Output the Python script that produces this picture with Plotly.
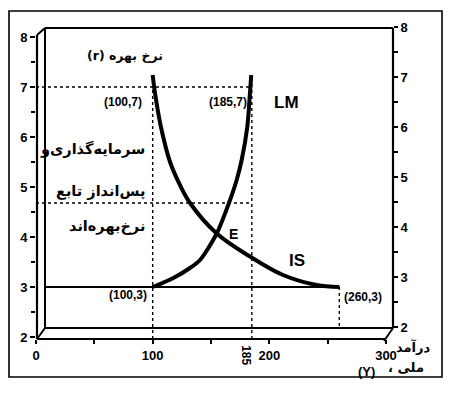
import plotly.graph_objects as go

# ---------------- data ----------------
is_x = [100, 102, 107.1, 114.9, 123.4, 132, 154.9, 183.4, 211.7, 240.6, 260]
is_y = [7.24, 6.88, 6.2, 5.5, 5.04, 4.68, 4.07, 3.61, 3.24, 3.04, 3.0]
lm_x = [100, 106.3, 117.7, 132, 140.6, 154.9, 165.4, 172, 176.3, 181.1, 183.4, 184.5]
lm_y = [3.0, 3.06, 3.18, 3.38, 3.54, 4.07, 4.68, 5.14, 5.54, 6.2, 6.88, 7.24]

point_x = [100, 185, 100, 260]
point_y = [7, 7, 3, 3]
mid_rate = 4.68          # dotted level of the second guide line
eq_x, eq_y = 154.9, 4.07  # E

x_ticks = [0, 100, 200, 300]
y_ticks = [2, 3, 4, 5, 6, 7, 8]

# ---------------- layout geometry ----------------
W, H = 450, 400
L, R, T, B = 36, 57, 23, 61
PW, PH = W - L - R, H - T - B
X_RANGE = [0, 306]
Y_RANGE = [1.96, 8.28]
Y2_RANGE = [1.76, 8.08]


def px(x):
    return (x - L) / PW


def py(y):
    return (T + PH - y) / PH


def xv(pxx):
    return X_RANGE[0] + (pxx - L) / PW * (X_RANGE[1] - X_RANGE[0])


def yv(pyy):
    return Y_RANGE[0] + (T + PH - pyy) / PH * (Y_RANGE[1] - Y_RANGE[0])


fig = go.Figure()

dot = dict(color="black", width=1.4, dash="dot")

# horizontal dotted guides (r = 7 and mid level) from the front axis to Y = 185
for yy in [point_y[0], mid_rate]:
    fig.add_trace(go.Scatter(x=[X_RANGE[0], point_x[1]], y=[yy, yy], mode="lines",
                             line=dot, hoverinfo="skip"))
# vertical dotted guides at Y = 100 and Y = 185
fig.add_trace(go.Scatter(x=[point_x[0], point_x[0]], y=[Y_RANGE[0], point_y[0]],
                         mode="lines", line=dot, hoverinfo="skip"))
fig.add_trace(go.Scatter(x=[point_x[1], point_x[1]], y=[Y_RANGE[0], lm_y[-1]],
                         mode="lines", line=dot, hoverinfo="skip"))
# solid line r = 3 from the back plane to Y = 260
fig.add_trace(go.Scatter(x=[xv(45), point_x[3]], y=[point_y[3], point_y[3]],
                         mode="lines", line=dict(color="black", width=2), hoverinfo="skip"))
# dotted drop at Y = 260 to the back floor
fig.add_trace(go.Scatter(x=[point_x[3], point_x[3]], y=[point_y[3], yv(328)],
                         mode="lines", line=dot, hoverinfo="skip"))

# IS and LM curves
fig.add_trace(go.Scatter(x=is_x, y=is_y, mode="lines", name="IS",
                         line=dict(color="black", width=4, shape="spline", smoothing=1.0)))
fig.add_trace(go.Scatter(x=lm_x, y=lm_y, mode="lines", name="LM",
                         line=dict(color="black", width=4, shape="spline", smoothing=0.8)))

# ---------------- frame (3D box) ----------------
def seg(x0, y0, x1, y1, w=2):
    return dict(type="line", xref="paper", yref="paper",
                x0=px(x0), y0=py(y0), x1=px(x1), y1=py(y1),
                line=dict(color="black", width=w), layer="above")

shapes = [
    # outer frame
    dict(type="rect", xref="paper", yref="paper", x0=px(9), y0=py(377), x1=px(442), y1=py(11),
         line=dict(color="black", width=1.6), layer="below"),
    # back plane
    seg(45, 28, 393, 28, 2.2),
    seg(45, 28, 45, 328, 2),
    seg(393, 28, 393, 328, 2.2),
    seg(45, 328, 393, 328, 2),
    # front axes
    seg(37, 35, 37, 339, 2.2),
    seg(37, 339, 385, 339, 2.2),
    # depth diagonals
    seg(37, 35, 45, 28, 2),
    seg(37, 339, 45, 328, 2),
    seg(384, 341, 393, 328, 2),
]

lbl = dict(family="Liberation Sans", size=12, color="black", weight="bold")
fa = dict(family="DejaVu Sans", size=14.5, color="black", weight="bold")

ann = [
    dict(x=point_x[0], y=point_y[0], text="(100,7)", xanchor="right", yanchor="middle",
         xshift=-9, yshift=-15, font=lbl),
    dict(x=point_x[1], y=point_y[1], text="(185,7)", xanchor="right", yanchor="middle",
         xshift=-3, yshift=-15, font=lbl),
    dict(x=point_x[2], y=point_y[2], text="(100,3)", xanchor="right", yanchor="middle",
         xshift=-4, yshift=-8, font=lbl),
    dict(x=point_x[3], y=point_y[3], text="(260,3)", xanchor="left", yanchor="middle",
         xshift=3, yshift=-10, font=lbl),
    dict(x=point_x[1], y=point_y[1], text="LM", xanchor="left", yanchor="middle",
         xshift=20, yshift=-15, font=dict(family="Liberation Sans", size=17, color="black", weight="bold")),
    dict(x=xv(297), y=yv(260), text="IS", xanchor="center", yanchor="middle",
         font=dict(family="Liberation Sans", size=17, color="black", weight="bold")),
    dict(x=eq_x, y=eq_y, text="E", xanchor="left", yanchor="middle", xshift=10,
         font=dict(family="Liberation Sans", size=14, color="black", weight="bold")),
    dict(x=point_x[1], y=0, yref="paper", text="185", textangle=90, xanchor="center",
         yanchor="top", xshift=-6, yshift=-4, font=dict(family="Liberation Sans", size=12, color="black", weight="bold")),
    # Persian labels
    dict(x=xv(165), y=yv(55), text="(r) نرخ بهره", xanchor="right", yanchor="middle",
         font=dict(family="DejaVu Sans", size=12.5, color="black", weight="bold")),
    dict(x=xv(147), y=yv(149), text="سرمایه‌گذاری‌و", xanchor="right", yanchor="middle", font=fa),
    dict(x=xv(147), y=yv(191), text="پس‌انداز تابع", xanchor="right", yanchor="middle", font=fa),
    dict(x=xv(147), y=yv(226), text="نرخ‌بهره‌اند", xanchor="right", yanchor="middle", font=fa),
    # x axis title
    dict(xref="paper", yref="paper", x=px(413), y=py(347), text="درآمد", xanchor="center", yanchor="middle",
         font=dict(family="DejaVu Sans", size=13, color="black", weight="bold")),
    dict(xref="paper", yref="paper", x=px(406), y=py(367), text="، ملی", xanchor="center", yanchor="middle",
         font=dict(family="DejaVu Sans", size=13, color="black", weight="bold")),
    dict(xref="paper", yref="paper", x=px(366), y=py(371), text="(Y)", xanchor="center", yanchor="middle",
         font=dict(family="Liberation Sans", size=13, color="black", weight="bold")),
]
for a in ann:
    a.setdefault("xref", "x")
    a.setdefault("yref", "y")
    a["showarrow"] = False

tickfont = dict(family="Liberation Sans", size=13, color="black", weight="bold")

fig.update_layout(
    width=W, height=H, autosize=False,
    margin=dict(l=L, r=R, t=T, b=B, pad=0),
    template="none",
    paper_bgcolor="white", plot_bgcolor="white",
    showlegend=False,
    shapes=shapes,
    annotations=ann,
    xaxis=dict(range=X_RANGE, tickvals=x_ticks, ticks="outside", ticklen=4, tickwidth=1.5,
               tickcolor="black", showgrid=False, zeroline=False, showline=False,
               tickfont=tickfont, automargin=False,
               minor=dict(tickvals=[50, 150, 250], ticks="outside", ticklen=4, tickwidth=1.5,
                          tickcolor="black", showgrid=False)),
    yaxis=dict(range=Y_RANGE, tickvals=y_ticks, ticks="outside", ticklen=5, tickwidth=1.5,
               tickcolor="black", showgrid=False, zeroline=False, showline=False,
               tickfont=tickfont, automargin=False,
               minor=dict(tickvals=[2.5, 3.5, 4.5, 5.5, 6.5, 7.5], ticks="outside", ticklen=4,
                          tickwidth=1.5, tickcolor="black", showgrid=False)),
    yaxis2=dict(range=Y2_RANGE, overlaying="y", side="right", anchor="x",
                tickvals=y_ticks, ticks="outside", ticklen=4, tickwidth=1.5,
                tickcolor="black", showgrid=False, zeroline=False, showline=False,
                tickfont=tickfont, automargin=False,
                minor=dict(tickvals=[2.5, 3.5, 4.5, 5.5, 6.5, 7.5], ticks="outside", ticklen=4,
                           tickwidth=1.5, tickcolor="black", showgrid=False)),
)
# dummy trace to activate the right axis
fig.add_trace(go.Scatter(x=[None], y=[None], yaxis="y2", mode="lines", hoverinfo="skip"))

fig.write_html("out.html")
